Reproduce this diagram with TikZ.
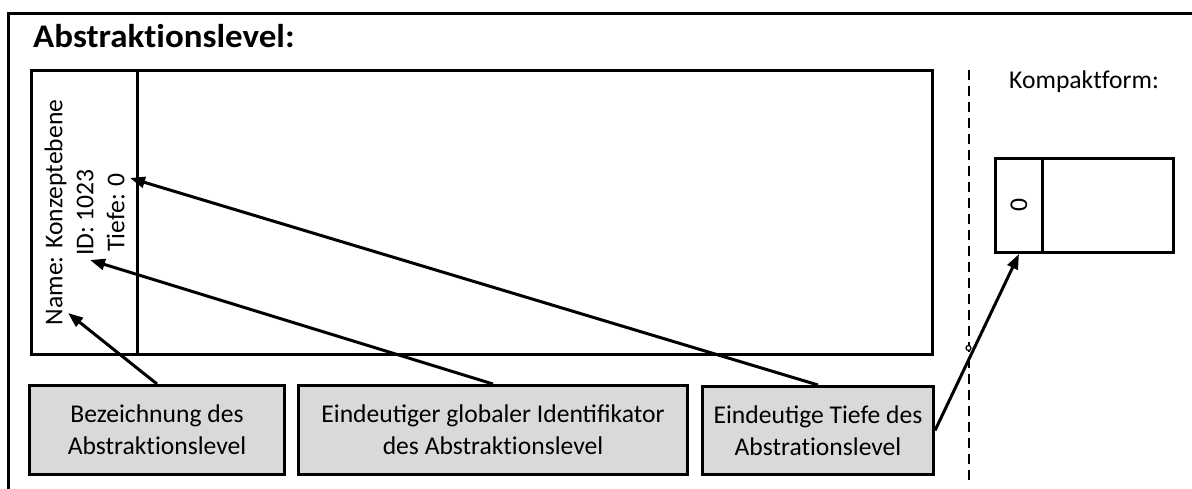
\documentclass[tikz,border=0pt]{standalone}
\usepackage{fontspec}
\setmainfont{Carlito}
\newfontfamily\titlefont{Carlito}[FakeStretch=1.06]
\usetikzlibrary{arrows.meta}

% set letter pairs as separate glyphs, no ligature
\newcommand{\tisep}{t\kern0pt i}
\newcommand{\ktfsep}{k\kern0pt t\kern0pt f}

\tikzset{
  frameline/.style={line width=3pt},
  boxline/.style={draw, line width=3pt, inner sep=0pt, anchor=north west},
  infobox/.style={boxline, fill=black!15, align=center,
    font=\fontsize{25.6}{32}\selectfont},
  pointer/.style={line width=3pt, -{Triangle[length=15pt,width=11pt]}},
  bodytext/.style={font=\fontsize{25.6}{31}\selectfont},
  divider/.style={line width=1.5pt, dash pattern=on 10pt off 6pt},
}

\begin{document}
\begin{tikzpicture}[x=1pt, y=-1pt]
  \useasboundingbox (0,0) rectangle (1192,489);

  % open outer frame
  \draw[frameline] (8,489) -- (8,14) -- (1192,14);

  % title
  \node[anchor=base west, inner sep=0pt,
        font=\titlefont\fontsize{33}{39}\selectfont\bfseries] (title) at (33,48) {Abstrak\tisep onslevel:};

  % full abstraction level box with its header cell
  \node[boxline, minimum width=901pt, minimum height=284pt] (level) at (30,69) {};
  \node[boxline, minimum width=106pt, minimum height=284pt] (cell) at (30,69) {};
  \node[bodytext, rotate=90, align=center, inner sep=0pt] (info) at (cell.center)
    {Name: Konzeptebene\\ID: 1023\\Tiefe: 0};

  % targets of the pointers inside the header cell
  \coordinate (pname) at (68,313);
  \coordinate (pid) at (90,260);
  \coordinate (pdepth) at (130,178);

  % explanation boxes
  \node[infobox, minimum width=255pt, minimum height=89pt] (b1) at (28,384)
    {Bezeichnung des\\Abstrak\tisep onslevel};
  \node[infobox, minimum width=389pt, minimum height=89pt] (b2) at (297,384)
    {Eindeutiger globaler Identifikator\\des Abstrak\tisep onslevel};
  \node[infobox, minimum width=231pt, minimum height=88pt] (b3) at (701,385)
    {Eindeutige Tiefe des\\Abstra\tisep onslevel};

  % separator
  \coordinate (dtop) at (969,70);
  \coordinate (dbot) at (969,482);
  \draw[divider] (dtop) -- (dbot);

  % compact form
  \node[anchor=base west, inner sep=0pt, bodytext] (ktitle) at (1009,89) {Kompa\ktfsep orm:};
  \node[boxline, minimum width=178pt, minimum height=94pt] (compact) at (994,157) {};
  \node[boxline, minimum width=47pt, minimum height=94pt] (ccell) at (994,157) {};
  \node[bodytext, rotate=90, inner sep=0pt] (cdepth) at (ccell.center) {0};

  % pointers
  \draw[pointer] (b1.north) -- (pname);
  \draw[pointer] (b2.north) -- (pid);
  \draw[pointer] (b3.north) -- (pdepth);
  \draw[pointer] (b3.east) -- (ccell.south);

  % small line hop where the pointer crosses the separator
  \coordinate (hop) at (968.5,348);
  \draw[line width=1.2pt, fill=white] (hop) circle (2.5pt);
\end{tikzpicture}
\end{document}
